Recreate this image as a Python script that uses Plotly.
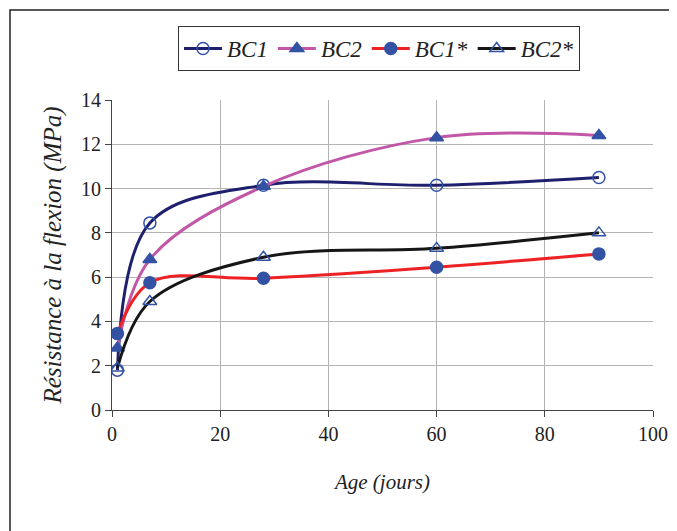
import plotly.graph_objects as go

days = [1, 7, 28, 60, 90]
bc1 = [1.8, 8.45, 10.15, 10.15, 10.5]
bc2 = [2.8, 6.8, 10.1, 12.3, 12.4]
bc1s = [3.45, 5.75, 5.95, 6.45, 7.05]
bc2s = [1.9, 4.9, 6.9, 7.3, 8.0]

names = ["BC1", "BC2", "BC1*", "BC2*"]
series = [bc1, bc2, bc1s, bc2s]
line_colors = ["#1e206e", "#c257a8", "#ee2224", "#161616"]
symbols = ["circle-open", "triangle-up", "circle", "triangle-up-open"]
marker_blue = "#3352a4"

FONT = "Liberation Serif"

# page body has an 8px margin; figure sized/placed to compensate
OFF = 8
W, H = 677 - OFF, 531 - OFF
L, T = 112 - OFF, 100 - OFF
R = W - (653 - OFF)
B = H - (410 - OFF)
pw, ph = W - L - R, H - T - B

def px_to_paper_x(px):
    return (px - OFF - L) / pw

def px_to_paper_y(py):
    return (T + ph - (py - OFF)) / ph

fig = go.Figure()
for n, s, lc, sym in zip(names, series, line_colors, symbols):
    fig.add_trace(go.Scatter(
        x=days, y=s, name=n, mode="lines+markers",
        line=dict(color=lc, width=3, shape="spline", smoothing=1.0),
        marker=dict(symbol=sym, size=12, color=marker_blue,
                    line=dict(color=marker_blue, width=1.5)),
    ))

fig.update_layout(
    width=W, height=H,
    margin=dict(l=L, r=R, t=T, b=B, autoexpand=False),
    paper_bgcolor="white", plot_bgcolor="white",
    font=dict(family=FONT, size=18, color="#222"),
    showlegend=True,
    legend=dict(
        orientation="h",
        x=px_to_paper_x(178), y=px_to_paper_y(26),
        xanchor="left", yanchor="top",
        bordercolor="#333", borderwidth=1,
        font=dict(family=FONT, size=23, style="italic", color="#222"),
        itemwidth=38,
        tracegroupgap=0,
    ),
    xaxis=dict(
        range=[0, 100], tickvals=[0, 20, 40, 60, 80, 100],
        showgrid=True, gridcolor="#b4b4b4", gridwidth=1,
        showline=True, linecolor="#444", linewidth=1,
        ticks="outside", ticklen=6, tickcolor="#444",
        zeroline=False, automargin=False,
        tickfont=dict(family=FONT, size=20),
        title=dict(text="Age (jours)", font=dict(family=FONT, size=21, style="italic"), standoff=30),
    ),
    yaxis=dict(
        range=[0, 14], tickvals=[0, 2, 4, 6, 8, 10, 12, 14],
        showgrid=True, gridcolor="#b4b4b4", gridwidth=1,
        showline=True, linecolor="#444", linewidth=1,
        ticks="outside", ticklen=6, tickcolor="#444",
        zeroline=False, automargin=False,
        tickfont=dict(family=FONT, size=20),
        title=dict(text="Résistance à la flexion (MPa)", font=dict(family=FONT, size=25, style="italic"), standoff=12),
    ),
)

fig.add_shape(type="rect", xref="paper", yref="paper",
              x0=px_to_paper_x(10), x1=px_to_paper_x(700),
              y0=px_to_paper_y(560), y1=px_to_paper_y(10),
              line=dict(color="#222", width=1.5), fillcolor="rgba(0,0,0,0)",
              layer="below")

fig.write_html("out.html")
